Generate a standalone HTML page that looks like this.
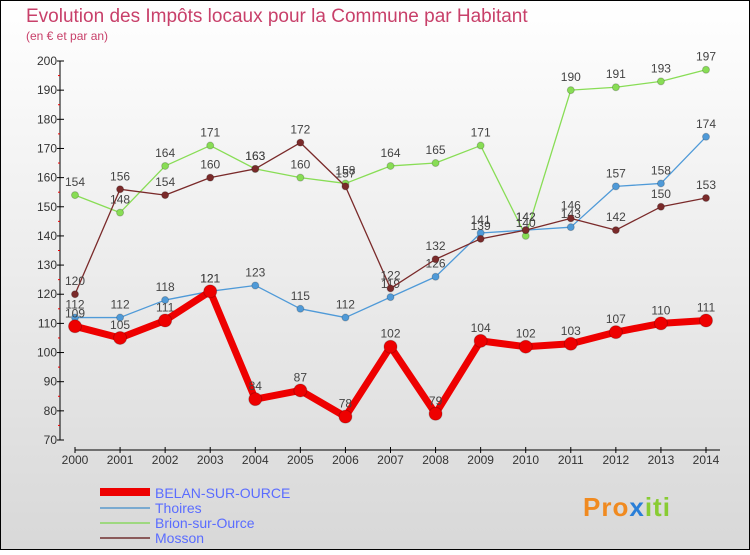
<!DOCTYPE html>
<html><head><meta charset="utf-8"><style>
body{margin:0;width:750px;height:550px;overflow:hidden;font-family:"Liberation Sans",sans-serif}
</style></head><body>
<svg width="750" height="550" xmlns="http://www.w3.org/2000/svg">
<defs><linearGradient id="bg" x1="0" y1="0" x2="0" y2="1"><stop offset="0" stop-color="#ffffff"/><stop offset="1" stop-color="#d8d8d8"/></linearGradient></defs>
<rect x="0.5" y="0.5" width="749" height="549" fill="url(#bg)" stroke="#000"/>
<text x="26" y="22" font-size="19" fill="#c8406a">Evolution des Impôts locaux pour la Commune par Habitant</text>
<text x="26" y="40" font-size="12" fill="#c8406a">(en € et par an)</text>
<g id="axes"></g>
<g id="series"></g>
<g>
<line x1="100" y1="492" x2="150" y2="492" stroke="#ee0000" stroke-width="8"/>
<line x1="100" y1="508" x2="150" y2="508" stroke="#7aaad0" stroke-width="2"/>
<line x1="100" y1="523" x2="150" y2="523" stroke="#9ed880" stroke-width="2"/>
<line x1="100" y1="538" x2="150" y2="538" stroke="#8a5a5a" stroke-width="2"/>
<text x="155" y="498" font-size="14" fill="#5a6cff">BELAN-SUR-OURCE</text>
<text x="155" y="513" font-size="14" fill="#5a6cff">Thoires</text>
<text x="155" y="528" font-size="14" fill="#5a6cff">Brion-sur-Ource</text>
<text x="155" y="543" font-size="14" fill="#5a6cff">Mosson</text>
</g>
<text x="583" y="516" font-size="26" font-weight="bold" fill="#f08a20" letter-spacing="1">Pro<tspan fill="#2a7fd8">x</tspan><tspan fill="#88cc33">iti</tspan></text>
</svg>
<script>
const years=["2000","2001","2002","2003","2004","2005","2006","2007","2008","2009","2010","2011","2012","2013","2014"];
const yTicks=[70,80,90,100,110,120,130,140,150,160,170,180,190,200];
const belan=[109,105,111,121,84,87,78,102,79,104,102,103,107,110,111];
const thoires=[112,112,118,121,123,115,112,119,126,141,142,143,157,158,174];
const brion=[154,148,164,171,163,160,158,164,165,171,140,190,191,193,197];
const mosson=[120,156,154,160,163,172,157,122,132,139,142,146,142,150,153];
const NS="http://www.w3.org/2000/svg";
const X=i=>75+i*(706-75)/14;
const Y=v=>440-(v-70)*(440-61)/130;
function mk(t,a,p){const e=document.createElementNS(NS,t);for(const k in a)e.setAttribute(k,a[k]);p.appendChild(e);return e;}
const ax=document.getElementById('axes');
const yl=mk('line',{x1:60,y1:Y(200),x2:60,y2:Y(70),stroke:'#000'},ax);


yTicks.forEach(v=>{
  mk('line',{x1:57,x2:64,y1:Y(v),y2:Y(v),stroke:'#000'},ax);
  if(v<200)mk('line',{x1:58,x2:60,y1:Y(v+5),y2:Y(v+5),stroke:'#e00'},ax);
  const t=mk('text',{x:57,y:Y(v)+4,'font-size':12,'text-anchor':'end',fill:'#333'},ax);t.textContent=v;
  
  
});
const xl=mk('line',{x1:X(0),x2:720,y1:450,y2:450,stroke:'#000'},ax);


years.forEach((y,i)=>{
  mk('line',{x1:X(i),x2:X(i),y1:447,y2:453,stroke:'#000'},ax);
  const t=mk('text',{x:X(i),y:464,'font-size':12,'text-anchor':'middle',fill:'#333'},ax);t.textContent=y;
  
  
});
const sg=document.getElementById('series');
function draw(name,data,color,w,r){
  const g=mk('g',{},sg);
  
  
  mk('polyline',{points:data.map((v,i)=>X(i)+','+Y(v)).join(' '),fill:'none',stroke:color,'stroke-width':w,'stroke-linejoin':'round'},g);
  data.forEach((v,i)=>{
    const c=mk('circle',{cx:X(i),cy:Y(v),r:r,fill:color,stroke:'#0003'},g);
    
    
    const t=mk('text',{x:X(i),y:Y(v)-9,'font-size':12,'text-anchor':'middle',fill:'#444'},g);t.textContent=v;
  });
}
draw('brion',brion,'#88dd55',1.3,3.5);
draw('thoires',thoires,'#4f9ad8',1.3,3.5);
draw('mosson',mosson,'#7a2a2a',1.3,3.5);
draw('belan',belan,'#ee0000',7,6.5);
</script>
</body></html>
